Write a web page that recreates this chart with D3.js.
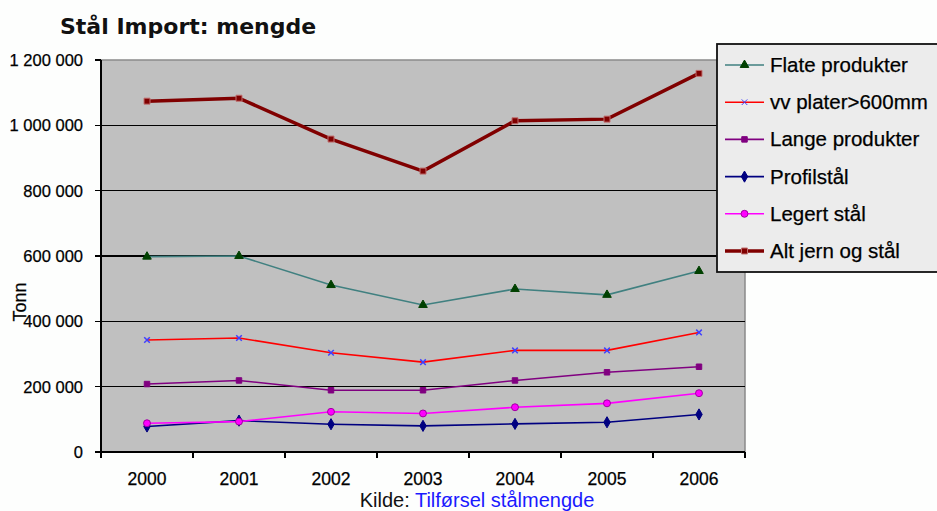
<!DOCTYPE html>
<html lang='no'>
<head>
  <meta charset='UTF-8'>
  <title>Stål Import: mengde</title>
  <style type='text/css'>
    body {
      margin: 0;
      background: #fdfefd;
      font-family: 'Liberation Sans', Arial, sans-serif;
    }
    .grid line {
      stroke: #000;
      stroke-width: 1.5px;
      shape-rendering: crispEdges;
    }
    text {
      fill: #000;
      stroke: #000;
      stroke-width: 0.25px;
    }
    .axis-text {
      font-size: 16.5px;
    }
  </style>
  <script type='text/javascript' src='https://d3js.org/d3.v7.min.js'></script>
</head>
<body>
  <script type='text/javascript'>
    const years = ['2000', '2001', '2002', '2003', '2004', '2005', '2006']
    const yTicks = [0, 200000, 400000, 600000, 800000, 1000000, 1200000]

    const flate = [598000, 600000, 511000, 450000, 499000, 481000, 554000]
    const vvPlater = [343000, 349000, 304000, 275000, 311000, 311000, 366000]
    const lange = [208000, 219000, 189000, 189000, 219000, 244000, 261000]
    const profil = [78000, 96000, 85000, 80000, 86000, 91000, 115000]
    const legert = [88000, 93000, 123000, 118000, 137000, 149000, 180000]
    const altJern = [1074000, 1083000, 958000, 860000, 1014000, 1019000, 1159000]

    const series = [
      {name: 'Flate produkter', values: flate, line: '#408080', width: 1.6, marker: 'triangle', fill: '#004000', stroke: '#004000', size: 32},
      {name: 'vv plater>600mm', values: vvPlater, line: '#ff0000', width: 1.6, marker: 'cross', fill: '#4040ff', stroke: '#4040ff', size: 22},
      {name: 'Lange produkter', values: lange, line: '#800080', width: 1.6, marker: 'square', fill: '#800080', stroke: '#800080', size: 30},
      {name: 'Profilstål', values: profil, line: '#000080', width: 1.6, marker: 'diamond', fill: '#000080', stroke: '#000080', size: 36},
      {name: 'Legert stål', values: legert, line: '#ff00ff', width: 1.6, marker: 'circle', fill: '#ff00ff', stroke: '#a000a0', size: 38},
      {name: 'Alt jern og stål', values: altJern, line: '#800000', width: 3.5, marker: 'square', fill: '#800000', stroke: '#c07070', size: 36}
    ]
    // draw order: magenta over navy, dark red first
    const drawOrder = [5, 0, 1, 2, 3, 4]

    const symbols = {
      triangle: d3.symbolTriangle,
      cross: d3.symbolX,
      square: d3.symbolSquare,
      diamond: d3.symbolDiamond,
      circle: d3.symbolCircle
    }

    const W = 937, H = 511
    const plot = {left: 101, right: 745, top: 60, bottom: 452}

    const svg = d3.select('body').append('svg')
      .attr('width', W)
      .attr('height', H)

    const x = d3.scaleBand().domain(years).range([plot.left, plot.right])
    const y = d3.scaleLinear().domain([0, 1200000]).range([plot.bottom, plot.top])
    const xc = d => x(d) + x.bandwidth() / 2
    const fmt = d3.formatLocale({decimal: ',', thousands: ' ', grouping: [3], currency: ['', '']}).format(',d')

    // title
    svg.append('text')
      .attr('x', 60)
      .attr('y', 34)
      .style('font-family', "'DejaVu Sans', Verdana, sans-serif")
      .style('font-weight', 'bold')
      .style('font-size', '22px')
      .style('fill', '#111')
      .style('stroke', 'none')
      .text('Stål Import: mengde')

    // plot area
    svg.append('rect')
      .attr('x', plot.left)
      .attr('y', plot.top)
      .attr('width', plot.right - plot.left)
      .attr('height', plot.bottom - plot.top)
      .style('fill', '#c0c0c0')
      .style('stroke', '#8a8a8a')
      .style('stroke-width', 1.5)

    // gridlines + y ticks
    const grid = svg.append('g').attr('class', 'grid')
    grid.selectAll('line.g')
      .data(yTicks.filter(d => d > 0 && d < 1200000))
      .enter().append('line')
      .attr('x1', plot.left)
      .attr('x2', plot.right)
      .attr('y1', d => y(d))
      .attr('y2', d => y(d))

    grid.selectAll('line.t')
      .data(yTicks)
      .enter().append('line')
      .attr('x1', plot.left - 6)
      .attr('x2', plot.left)
      .attr('y1', d => y(d))
      .attr('y2', d => y(d))

    svg.selectAll('text.ylab')
      .data(yTicks)
      .enter().append('text')
      .attr('class', 'axis-text')
      .attr('x', 83)
      .attr('y', d => y(d) + 6)
      .attr('text-anchor', 'end')
      .text(d => fmt(d))

    // axis lines
    grid.append('line')
      .attr('x1', plot.left).attr('x2', plot.left)
      .attr('y1', plot.top).attr('y2', plot.bottom + 6)
    grid.append('line')
      .attr('x1', plot.left - 6).attr('x2', plot.right)
      .attr('y1', plot.bottom).attr('y2', plot.bottom)

    // x ticks at band boundaries
    grid.selectAll('line.xt')
      .data(years.slice(1).concat(['end']))
      .enter().append('line')
      .attr('x1', d => d === 'end' ? plot.right : x(d))
      .attr('x2', d => d === 'end' ? plot.right : x(d))
      .attr('y1', plot.bottom)
      .attr('y2', plot.bottom + 6)

    svg.selectAll('text.xlab')
      .data(years)
      .enter().append('text')
      .attr('class', 'axis-text')
      .attr('x', d => xc(d))
      .attr('y', 485)
      .attr('text-anchor', 'middle')
      .style('font-size', '17.5px')
      .text(d => d)

    // y axis title
    svg.append('text')
      .attr('transform', 'translate(26,302) rotate(-90)')
      .attr('text-anchor', 'middle')
      .style('font-size', '18px')
      .text('Tonn')

    // series
    const line = d3.line()
      .x((d, i) => xc(years[i]))
      .y(d => y(d))

    drawOrder.forEach(k => {
      const s = series[k]
      const g = svg.append('g')
      g.append('path')
        .attr('d', line(s.values))
        .style('fill', 'none')
        .style('stroke', s.line)
        .style('stroke-width', s.width)
      g.selectAll('path.m')
        .data(s.values)
        .enter().append('path')
        .attr('transform', (d, i) => `translate(${xc(years[i])},${y(d)})`)
        .attr('d', d3.symbol().type(symbols[s.marker]).size(s.size))
        .style('fill', s.fill)
        .style('stroke', s.stroke)
        .style('stroke-width', s.marker === 'cross' ? 1.5 : 1)
    })

    // legend
    const lg = svg.append('g')
    lg.append('rect')
      .attr('x', 717)
      .attr('y', 44)
      .attr('width', 240)
      .attr('height', 228)
      .style('fill', '#ececec')
      .style('stroke', '#111')
      .style('stroke-width', 1.8)

    const item = lg.selectAll('g.item')
      .data(series)
      .enter().append('g')
      .attr('transform', (d, i) => `translate(0,${65 + i * 37.2})`)

    item.append('line')
      .attr('x1', 725)
      .attr('x2', 764)
      .style('stroke', d => d.line)
      .style('stroke-width', d => d.width)
    item.append('path')
      .attr('transform', 'translate(744.5,0)')
      .attr('d', d => d3.symbol().type(symbols[d.marker]).size(d.size)())
      .style('fill', d => d.fill)
      .style('stroke', d => d.stroke)
    item.append('text')
      .attr('x', 770)
      .attr('y', 7)
      .style('font-size', '20.5px')
      .text(d => d.name)

    // source
    const src = svg.append('text')
      .attr('x', 477)
      .attr('y', 507)
      .attr('text-anchor', 'middle')
      .style('font-size', '20px')
      .style('stroke', 'none')
    src.append('tspan').style('fill', '#111').text('Kilde: ')
    src.append('tspan').style('fill', '#1a1aff').text('Tilførsel stålmengde')
  </script>
</body>
</html>
